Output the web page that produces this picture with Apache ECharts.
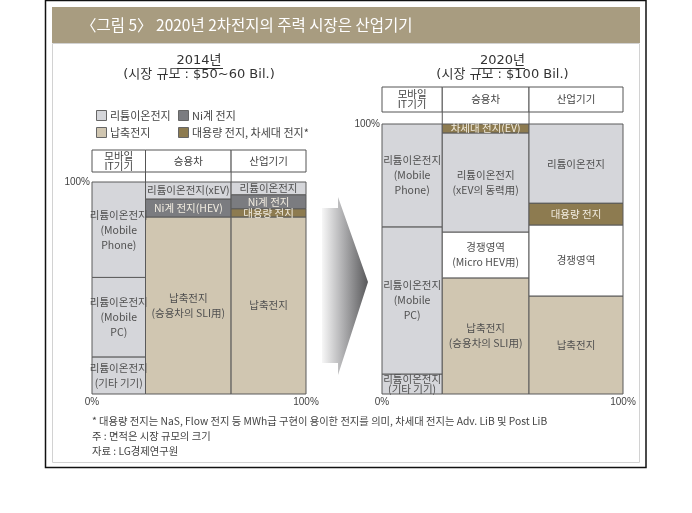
<!DOCTYPE html>
<html><head><meta charset="utf-8">
<script src="https://cdn.jsdelivr.net/npm/echarts@6/dist/echarts.min.js"></script>
<style>html,body{margin:0;padding:0;background:#fff}#c{width:692px;height:513px}</style>
</head><body><div id="c"></div>
<script>
const FONT = '"Noto Sans CJK KR", "Noto Sans", sans-serif';
const WIDE = '"DejaVu Sans", "Noto Sans CJK KR", sans-serif';
const LATIN = '"Liberation Sans", Arial, sans-serif';

// ---------- data ----------
const titleText = '〈그림 5〉 2020년 2차전지의 주력 시장은 산업기기';
const columnHeaders = ['모바일\nIT기기', '승용차', '산업기기'];
const typeNames = ['리튬이온전지', 'Ni계 전지', '납축전지', '대용량 전지, 차세대 전지*', '경쟁영역'];
const typeColors = ['#d5d6da', '#7b7c80', '#d0c6b1', '#8d7b50', '#ffffff'];
const xTickLabels = ['0%', '100%'];
const yTickLabels = ['', '100%'];

// 2014 (column widths = share of market; segments bottom -> top, %)
const year2014 = '2014년';
const size2014 = '(시장 규모 : $50~60 Bil.)';
const widths2014 = [25, 40, 35];
const mobile2014Values = [17.5, 37.5, 45];
const mobile2014Types = [0, 0, 0];
const mobile2014Labels = ['리튬이온전지\n(기타 기기)', '리튬이온전지\n(Mobile\nPC)', '리튬이온전지\n(Mobile\nPhone)'];
const car2014Values = [83.5, 8.5, 8];
const car2014Types = [2, 1, 0];
const car2014Labels = ['납축전지\n(승용차의 SLI用)', 'Ni계 전지(HEV)', '리튬이온전지(xEV)'];
const industry2014Values = [83.5, 3.9, 6.6, 6];
const industry2014Types = [2, 3, 1, 0];
const industry2014Labels = ['납축전지', '대용량 전지', 'Ni계 전지', '리튬이온전지'];

// 2020
const year2020 = '2020년';
const size2020 = '(시장 규모 : $100 Bil.)';
const widths2020 = [25, 36, 39];
const mobile2020Values = [7.4, 54.5, 38.1];
const mobile2020Types = [0, 0, 0];
const mobile2020Labels = ['리튬이온전지\n(기타 기기)', '리튬이온전지\n(Mobile\nPC)', '리튬이온전지\n(Mobile\nPhone)'];
const car2020Values = [43, 17, 36.7, 3.3];
const car2020Types = [2, 4, 0, 3];
const car2020Labels = ['납축전지\n(승용차의 SLI用)', '경쟁영역\n(Micro HEV用)', '리튬이온전지\n(xEV의 동력用)', '차세대 전지(EV)'];
const industry2020Values = [36.3, 26.3, 8.1, 29.3];
const industry2020Types = [2, 4, 3, 0];
const industry2020Labels = ['납축전지', '경쟁영역', '대용량 전지', '리튬이온전지'];

const footnotes = [
  '* 대용량 전지는 NaS, Flow 전지 등 MWh급 구현이 용이한 전지를 의미, 차세대 전지는 Adv. LiB 및 Post LiB',
  '주 : 면적은 시장 규모의 크기',
  '자료 : LG경제연구원'
];

// ---------- layout ----------
const L = {left: 92, top: 182, width: 214, height: 212, headTop: 150, headH: 22};
const R = {left: 382, top: 124, width: 241, height: 270, headTop: 87, headH: 25};

function buildSegments(widths, values, types, labels) {
  const data = [], texts = [];
  let x = 0;
  widths.forEach((w, c) => {
    let y = 0;
    values[c].forEach((v, i) => {
      data.push([x, x + w, y, y + v, types[c][i], texts.length]);
      texts.push(labels[c][i]);
      y += v;
    });
    x += w;
  });
  return {data, texts};
}
function buildHeaders(widths) {
  let x = 0;
  return widths.map((w, i) => { const d = [x, x + w, i]; x += w; return d; });
}

const seg2014 = buildSegments(widths2014,
  [mobile2014Values, car2014Values, industry2014Values],
  [mobile2014Types, car2014Types, industry2014Types],
  [mobile2014Labels, car2014Labels, industry2014Labels]);
const seg2020 = buildSegments(widths2020,
  [mobile2020Values, car2020Values, industry2020Values],
  [mobile2020Types, car2020Types, industry2020Types],
  [mobile2020Labels, car2020Labels, industry2020Labels]);

function segRenderer(texts) {
  return function (params, api) {
    const x0 = api.value(0), x1 = api.value(1), y0 = api.value(2), y1 = api.value(3);
    const t = api.value(4);
    const label = texts[api.value(5)];
    const a = api.coord([x0, y1]), b = api.coord([x1, y0]);
    const w = b[0] - a[0], h = b[1] - a[1];
    const n = label.split('\n').length;
    const lh = Math.max(9.5, Math.min(15, h / n));
    const dark = (t === 1 || t === 3);
    return {
      type: 'rect',
      shape: {x: a[0], y: a[1], width: w, height: h},
      style: {fill: typeColors[t], stroke: '#5a5a5a', lineWidth: 1},
      textContent: {
        style: {
          text: label, fill: dark ? '#f1ece0' : '#505050',
          fontFamily: FONT, fontSize: 10.5, lineHeight: lh,
          align: 'center', verticalAlign: 'middle'
        }
      },
      textConfig: {position: 'inside'}
    };
  };
}
function headRenderer(gap) {
  return function (params, api) {
    const x0 = api.value(0), x1 = api.value(1), i = api.value(2);
    const a = api.coord([x0, 1]), b = api.coord([x1, 0]);
    const children = [{
      type: 'rect',
      shape: {x: a[0], y: a[1], width: b[0] - a[0], height: b[1] - a[1]},
      style: {fill: '#fff', stroke: '#555', lineWidth: 1},
      textContent: {
        style: {
          text: columnHeaders[i], fill: '#444', fontFamily: FONT, fontSize: 10.5,
          lineHeight: 10, align: 'center', verticalAlign: 'middle'
        }
      },
      textConfig: {position: 'inside'}
    }];
    if (i > 0) {
      children.push({type: 'line', shape: {x1: a[0], y1: b[1], x2: a[0], y2: b[1] + gap},
        style: {stroke: '#555', lineWidth: 1}});
    }
    return {type: 'group', children};
  };
}

function plotX(gi) {
  return {gridIndex: gi, type: 'value', min: 0, max: 100, interval: 100,
    axisLine: {show: false}, axisTick: {show: false}, splitLine: {show: false},
    axisLabel: {formatter: v => v === 0 ? xTickLabels[0] : xTickLabels[1],
      fontFamily: LATIN, fontSize: 10, color: '#444', margin: 3}};
}
function plotY(gi) {
  return {gridIndex: gi, type: 'value', min: 0, max: 100, interval: 100,
    axisLine: {show: false}, axisTick: {show: false}, splitLine: {show: false},
    axisLabel: {formatter: v => v === 100 ? yTickLabels[1] : yTickLabels[0],
      fontFamily: LATIN, fontSize: 10, color: '#444', margin: 2}};
}
function hideX(gi) { return {gridIndex: gi, type: 'value', min: 0, max: 100, show: false}; }
function hideY(gi) { return {gridIndex: gi, type: 'value', min: 0, max: 1, show: false}; }

// legend graphics
const legendPos = [[96, 116], [178, 116], [96, 133], [178, 133]];
const legendG = [];
[0, 1, 2, 3].forEach((t, k) => {
  const p = legendPos[k];
  legendG.push({type: 'rect', shape: {x: p[0] + 0.5, y: p[1] - 5.5, width: 10, height: 10},
    style: {fill: typeColors[t], stroke: '#666', lineWidth: 1}, z: 5});
  legendG.push({type: 'text', x: p[0] + 14, y: p[1],
    style: {text: typeNames[t], fill: '#444', fontFamily: FONT, fontSize: 11, verticalAlign: 'middle'}, z: 5});
});

const chart = echarts.init(document.getElementById('c'));
chart.setOption({
  animation: false,
  backgroundColor: '#fff',
  grid: [
    {left: L.left, top: L.top, width: L.width, height: L.height},
    {left: L.left, top: L.headTop, width: L.width, height: L.headH},
    {left: R.left, top: R.top, width: R.width, height: R.height},
    {left: R.left, top: R.headTop, width: R.width, height: R.headH}
  ],
  xAxis: [plotX(0), hideX(1), plotX(2), hideX(3)],
  yAxis: [plotY(0), hideY(1), plotY(2), hideY(3)],
  series: [
    {type: 'custom', xAxisIndex: 0, yAxisIndex: 0, renderItem: segRenderer(seg2014.texts),
      data: seg2014.data, encode: {x: [0, 1], y: [2, 3]}, z: 3},
    {type: 'custom', xAxisIndex: 1, yAxisIndex: 1, renderItem: headRenderer(L.top - L.headTop - L.headH),
      data: buildHeaders(widths2014), encode: {x: [0, 1]}, z: 3},
    {type: 'custom', xAxisIndex: 2, yAxisIndex: 2, renderItem: segRenderer(seg2020.texts),
      data: seg2020.data, encode: {x: [0, 1], y: [2, 3]}, z: 3},
    {type: 'custom', xAxisIndex: 3, yAxisIndex: 3, renderItem: headRenderer(R.top - R.headTop - R.headH),
      data: buildHeaders(widths2020), encode: {x: [0, 1]}, z: 3}
  ],
  graphic: [
    {type: 'rect', shape: {x: 52.5, y: 43.5, width: 587, height: 419}, style: {fill: '#fff', stroke: '#d2d2d2', lineWidth: 1}, z: 0},
    {type: 'rect', shape: {x: 52, y: 7, width: 588, height: 36}, style: {fill: '#a89c80'}, z: 1},
    {type: 'text', x: 81, y: 25, style: {text: titleText, fill: '#fff', fontFamily: FONT, fontSize: 15.5, verticalAlign: 'middle'}, z: 2},
    {type: 'text', x: L.left + L.width / 2, y: 61, style: {text: year2014, fill: '#333', fontFamily: WIDE, fontSize: 13, align: 'center', verticalAlign: 'middle'}, z: 2},
    {type: 'line', shape: {x1: 177, y1: 68.5, x2: 223, y2: 68.5}, style: {stroke: '#333', lineWidth: 1}, z: 2},
    {type: 'text', x: L.left + L.width / 2, y: 75, style: {text: size2014, fill: '#333', fontFamily: WIDE, fontSize: 13, align: 'center', verticalAlign: 'middle'}, z: 2},
    {type: 'text', x: R.left + R.width / 2, y: 61, style: {text: year2020, fill: '#333', fontFamily: WIDE, fontSize: 13, align: 'center', verticalAlign: 'middle'}, z: 2},
    {type: 'line', shape: {x1: 479, y1: 68.5, x2: 525, y2: 68.5}, style: {stroke: '#333', lineWidth: 1}, z: 2},
    {type: 'text', x: R.left + R.width / 2, y: 75, style: {text: size2020, fill: '#333', fontFamily: WIDE, fontSize: 13, align: 'center', verticalAlign: 'middle'}, z: 2},
    {type: 'polygon', shape: {points: [[322, 208], [338, 208], [338, 197], [368, 282], [338, 375], [338, 363], [322, 363]]},
      style: {fill: {type: 'linear', x: 0, y: 0, x2: 1, y2: 0, colorStops: [{offset: 0, color: '#f7f7f7'}, {offset: 0.45, color: '#b0b0b2'}, {offset: 1, color: '#58585a'}]}}, z: 2},
    ...legendG,
    ...footnotes.map((t, i) => ({type: 'text', x: 92, y: 421 + i * 15,
      style: {text: t, fill: '#444', fontFamily: FONT, fontSize: 10.3, verticalAlign: 'middle'}, z: 2})),
    {type: 'rect', shape: {x: 45.5, y: 0.5, width: 600.5, height: 467}, style: {fill: 'none', stroke: '#111', lineWidth: 1.5}, z: 10}
  ]
});
</script></body></html>
